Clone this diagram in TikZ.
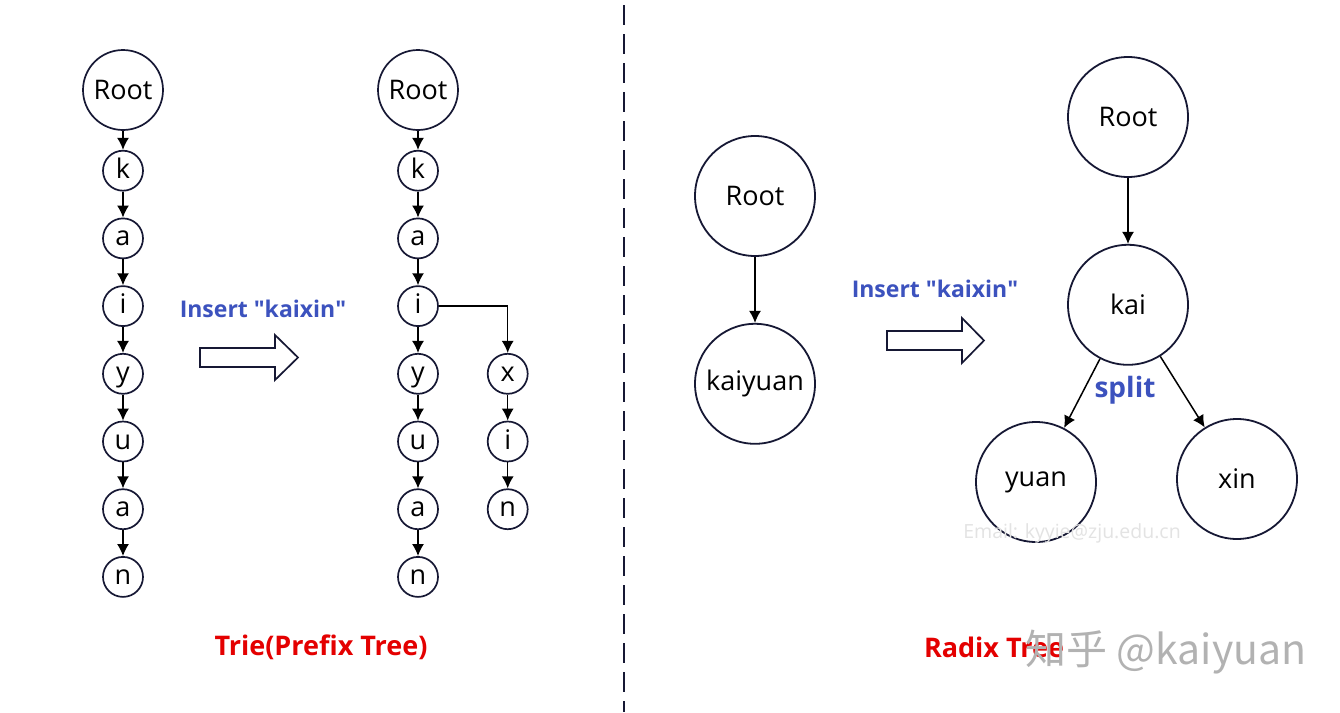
\documentclass[tikz,border=0pt]{standalone}
\usepackage{fontspec}
\setmainfont{Open Sans}
\newfontfamily\cjk{Noto Sans CJK SC}
\usepackage{tikz}
\usetikzlibrary{
    arrows.meta,
    positioning
}
\definecolor{insBlue}{RGB}{60,82,190}
\definecolor{titleRed}{RGB}{228,0,0}
\definecolor{edgeNavy}{RGB}{22,24,52}
\tikzset{
  rootc/.style   = {draw=edgeNavy, circle, line width=1.7pt, minimum size=80pt,
                    inner sep=0pt, font=\fontsize{27}{30}\selectfont},
  letter/.style  = {draw=edgeNavy, circle, line width=1.7pt, minimum size=40pt,
                    inner sep=0pt, text height=20pt, text depth=5pt,
                    font=\fontsize{27}{30}\selectfont},
  bigc/.style    = {draw=edgeNavy, circle, line width=1.8pt, minimum size=120pt,
                    inner sep=0pt, font=\fontsize{27}{30}\selectfont},
  arr/.style     = {-{Latex[length=12pt,width=12pt]}, line width=1.5pt, black},
  hollow/.style  = {draw=edgeNavy, line width=1.7pt, fill=white},
  ins/.style     = {text=insBlue, font=\bfseries\fontsize{23}{26}\selectfont},
  title/.style   = {text=titleRed, font=\bfseries\fontsize{27}{30}\selectfont}
}

\begin{document}
\begin{tikzpicture}[x=1pt, y=-1pt, node distance=26pt]
  \useasboundingbox (0,0) rectangle (1340,712);
  \fill[white] (0,0) rectangle (1340,712);

  % trie before insert
  \node[rootc] (rootA) at (123,90) {Root};
  \node[letter, below=19pt of rootA] (kA) {k};
  \node[letter, below=of kA] (aA) {a};
  \node[letter, below=of aA] (iA) {i};
  \node[letter, below=of iA] (yA) {y};
  \node[letter, below=of yA] (uA) {u};
  \node[letter, below=of uA] (a2A) {a};
  \node[letter, below=of a2A] (nA) {n};

  \draw[arr] (rootA) -- (kA);
  \draw[arr] (kA) -- (aA);
  \draw[arr] (aA) -- (iA);
  \draw[arr] (iA) -- (yA);
  \draw[arr] (yA) -- (uA);
  \draw[arr] (uA) -- (a2A);
  \draw[arr] (a2A) -- (nA);

  % insert arrow (left)
  \node[ins] (insA) at (263,309) {Insert \textquotedbl kaixin\textquotedbl};
  \draw[hollow] (200,348) -- (275,348) -- (275,335) -- (298,357.5)
        -- (275,380) -- (275,367) -- (200,367) -- cycle;

  % trie after insert
  \node[rootc] (rootB) at (418,90) {Root};
  \node[letter, below=19pt of rootB] (kB) {k};
  \node[letter, below=of kB] (aB) {a};
  \node[letter, below=of aB] (iB) {i};
  \node[letter, below=of iB] (yB) {y};
  \node[letter, below=of yB] (uB) {u};
  \node[letter, below=of uB] (a2B) {a};
  \node[letter, below=of a2B] (nB) {n};
  \node[letter, right=48pt of yB] (xB) {x};
  \node[letter, below=of xB] (i2B) {i};
  \node[letter, below=of i2B] (n2B) {n};

  \draw[arr] (rootB) -- (kB);
  \draw[arr] (kB) -- (aB);
  \draw[arr] (aB) -- (iB);
  \draw[arr] (iB) -- (yB);
  \draw[arr] (yB) -- (uB);
  \draw[arr] (uB) -- (a2B);
  \draw[arr] (a2B) -- (nB);
  \draw[arr] (iB.east) -| (xB.north);
  \draw[arr] (xB) -- (i2B);
  \draw[arr] (i2B) -- (n2B);

  \node[title] (trieT) at (321,647) {Trie(Prefix Tree)};

  % separator
  \coordinate (sepTop) at (624,5);
  \coordinate (sepBot) at (624,712);
  \draw[line width=1.6pt, dash pattern=on 20pt off 9pt, edgeNavy] (sepTop) -- (sepBot);

  % radix tree before insert
  \node[bigc] (rootL) at (755,196) {Root};
  \node[bigc, below=66pt of rootL] (kaiyuan) {kaiyuan};
  \draw[arr] (rootL) -- (kaiyuan);

  % insert arrow (right)
  \node[ins] (insB) at (935,289) {Insert \textquotedbl kaixin\textquotedbl};
  \draw[hollow] (887,331) -- (962,331) -- (962,318) -- (984,340.5)
        -- (962,363) -- (962,350) -- (887,350) -- cycle;

  % radix tree after insert
  \node[bigc] (rootR) at (1128,117) {Root};
  \node[bigc, below=66pt of rootR] (kai) {kai};
  \node[bigc] (yuan) at (1036,482) {yuan};
  \node[bigc] (xin) at (1237,479) {xin};
  \draw[arr] (rootR) -- (kai);
  \draw[arr] (kai) -- (yuan);
  \draw[arr] (kai) -- (xin);
  \node[text=insBlue, font=\bfseries\fontsize{28}{32}\selectfont] (split) at (1125,390) {split};

  \node[title] (radixT) at (994,647) {Radix Tree};

  % watermarks
  \node[text=gray!22, font=\fontsize{19.5}{22}\selectfont] (mail) at (1072,533) {Email: kyyie@zju.edu.cn};
  \node[text=gray!60, font=\cjk\fontsize{41}{46}\selectfont] (zhihu) at (1166,652) {知乎 @kaiyuan};
\end{tikzpicture}
\end{document}
